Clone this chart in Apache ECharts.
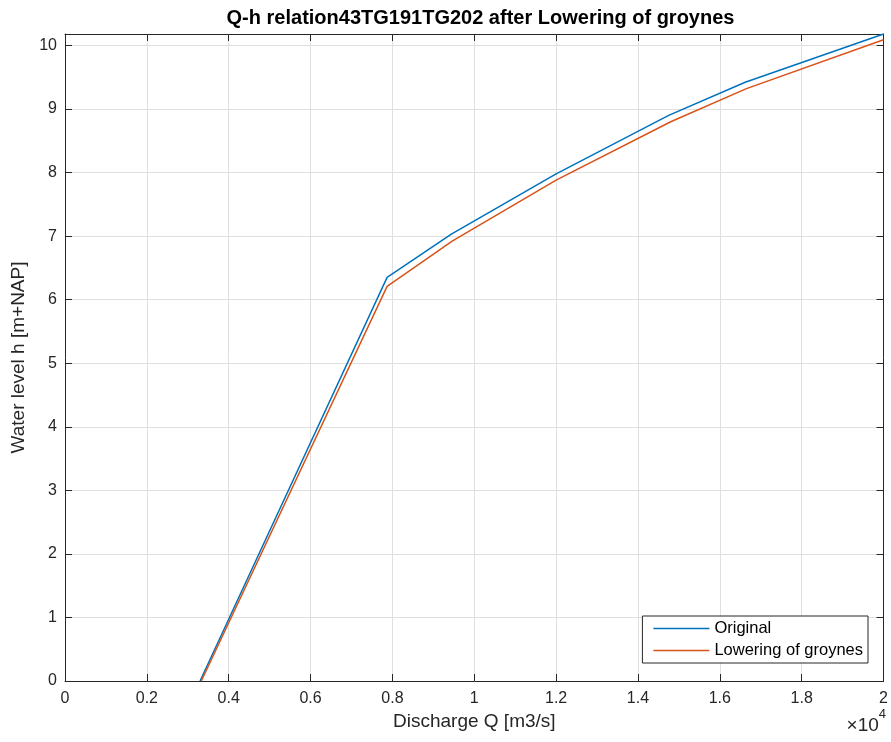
<!DOCTYPE html>
<html><head><meta charset="utf-8">
<script src="https://cdn.jsdelivr.net/npm/echarts@6/dist/echarts.min.js"></script>
<style>html,body{margin:0;padding:0;background:#fff}#c{width:891px;height:742px}</style>
</head><body><div id="c"></div>
<script>
const titleText = 'Q-h relation43TG191TG202 after Lowering of groynes';
const seriesNames = ['Original', 'Lowering of groynes'];
const originalQ = [3300, 7870, 9440, 12000, 14750, 16620, 20000];
const originalH = [0, 6.35, 7.03, 7.98, 8.90, 9.42, 10.18];
const loweredQ = [3330, 7870, 9460, 12000, 14800, 16650, 20000];
const loweredH = [0, 6.21, 6.92, 7.88, 8.80, 9.32, 10.09];
const xTickLabels = ['0','0.2','0.4','0.6','0.8','1','1.2','1.4','1.6','1.8','2'];
const yTickLabels = ['0','1','2','3','4','5','6','7','8','9','10'];

const FONT = 'Liberation Sans, Arial, Helvetica, sans-serif';
const AX = '#262626';
const GRIDC = '#dfdfdf';
const chart = echarts.init(document.getElementById('c'), null, {renderer:'canvas'});

function xLab(v){ const i = Math.round(v/2000); return (Math.abs(v - i*2000) < 1e-6 && i>=0 && i<xTickLabels.length) ? xTickLabels[i] : ''; }
function yLab(v){ const i = Math.round(v); return (Math.abs(v-i)<1e-6 && i>=0 && i<yTickLabels.length) ? yTickLabels[i] : ''; }

const colors = ['#0072BD', '#D95319'];
chart.setOption({
  animation:false,
  backgroundColor:'#fff',
  title:{text:titleText, left:475.5, textAlign:'center', top:3,
    textStyle:{fontFamily:FONT, fontWeight:'bold', fontSize:20, color:'#000'}},
  grid:{left:65, right:5, top:34, bottom:61, containLabel:false},
  xAxis:[
    {type:'value', min:0, max:20000, interval:2000, position:'bottom',
     name:'Discharge Q [m3/s]', nameLocation:'middle', nameGap:31,
     nameTextStyle:{fontFamily:FONT, fontSize:19, color:AX},
     axisLine:{show:true, onZero:false, lineStyle:{color:AX, width:1}},
     axisTick:{show:true, inside:true, length:7, lineStyle:{color:AX}},
     axisLabel:{formatter:xLab, fontFamily:FONT, fontSize:16, color:AX, margin:10, showMaxLabel:true},
     splitLine:{show:true, lineStyle:{color:GRIDC, width:1}}},
    {type:'value', min:0, max:20000, interval:2000, position:'top',
     axisLine:{show:true, onZero:false, lineStyle:{color:AX, width:1}},
     axisTick:{show:true, inside:true, length:7, lineStyle:{color:AX}},
     axisLabel:{show:false}, splitLine:{show:false}}
  ],
  yAxis:[
    {type:'value', min:0, max:10.18, interval:1, position:'left',
     name:'Water level h [m+NAP]', nameLocation:'middle', nameGap:35,
     nameTextStyle:{fontFamily:FONT, fontSize:19, color:AX},
     axisLine:{show:true, onZero:false, lineStyle:{color:AX, width:1}},
     axisTick:{show:true, inside:true, length:7, lineStyle:{color:AX}},
     axisLabel:{formatter:yLab, fontFamily:FONT, fontSize:16, color:AX, margin:8, showMaxLabel:false},
     splitLine:{show:true, lineStyle:{color:GRIDC, width:1}}},
    {type:'value', min:0, max:10.18, interval:1, position:'right',
     axisLine:{show:true, onZero:false, lineStyle:{color:AX, width:1}},
     axisTick:{show:true, inside:true, length:7, lineStyle:{color:AX}},
     axisLabel:{show:false}, splitLine:{show:false}}
  ],
  legend:{
    data:seriesNames.map((n)=>({name:n, icon:'rect'})), orient:'vertical', right:23, bottom:79,
    itemWidth:56, itemHeight:1.5, itemGap:2,
    padding:[2.5,5,2.5,11],
    borderColor:AX, borderWidth:1, backgroundColor:'#fff', borderRadius:0,
    textStyle:{fontFamily:FONT, fontSize:16.5, lineHeight:20, color:'#000'}
  },
  graphic:[{
    type:'text', right:5, top:708,
    style:{text:'{a|×10}{b|4}', rich:{
      a:{fontFamily:FONT, fontSize:19, fill:AX, verticalAlign:'bottom', padding:[8,0,0,0]},
      b:{fontFamily:FONT, fontSize:13, fill:AX, verticalAlign:'top', padding:[0,0,12,0]}}}
  }],
  series:[
    {name:seriesNames[0], type:'line', xAxisIndex:0, yAxisIndex:0, symbol:'none',
     lineStyle:{color:colors[0], width:1.5}, itemStyle:{color:colors[0]},
     data: originalQ.map((q,i)=>[q, originalH[i]])},
    {name:seriesNames[1], type:'line', xAxisIndex:0, yAxisIndex:0, symbol:'none',
     lineStyle:{color:colors[1], width:1.5}, itemStyle:{color:colors[1]},
     data: loweredQ.map((q,i)=>[q, loweredH[i]])}
  ]
});
</script></body></html>
